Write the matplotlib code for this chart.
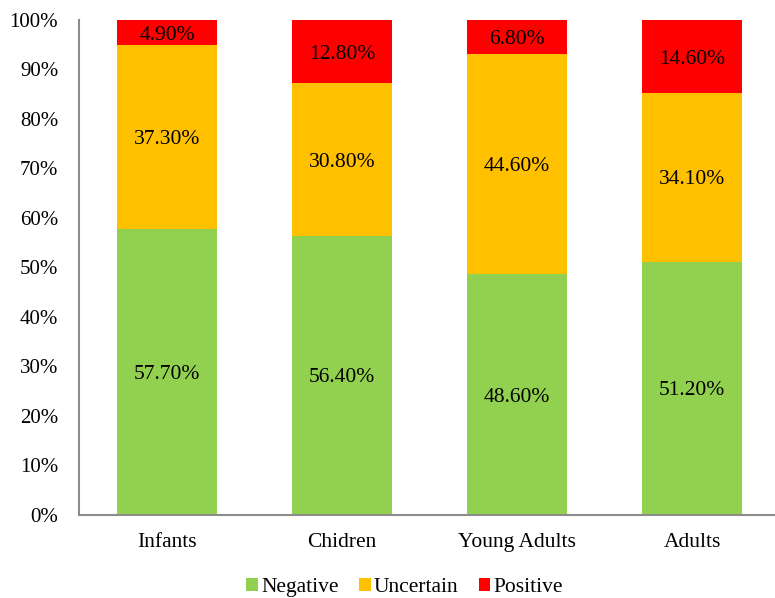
import numpy as np
import matplotlib
matplotlib.use('Agg')
import matplotlib.pyplot as plt
from matplotlib.ticker import FuncFormatter

groups = ['Infants', 'Chidren', 'Young Adults', 'Adults']
negative = [57.7, 56.4, 48.6, 51.2]
uncertain = [37.3, 30.8, 44.6, 34.1]
positive = [4.9, 12.8, 6.8, 14.6]

plt.rcParams['font.family'] = ['Liberation Serif', 'DejaVu Serif']

fig = plt.figure(figsize=(7.75, 5.98), dpi=100)
ax = fig.add_axes([0.1019, 0.1388, 0.8981, 0.8278])

x = np.arange(len(groups))
width = 0.571
neg = np.array(negative)
unc = np.array(uncertain)
pos = np.array(positive)

series = [
    ('Negative', neg, np.zeros_like(neg), '#92D050'),
    ('Uncertain', unc, neg, '#FFC000'),
    ('Positive', pos, neg + unc, '#FF0000'),
]
for name, vals, bottom, color in series:
    ax.bar(x, vals, width, bottom=bottom, color=color, label=name, zorder=2)
    for xi, v, b in zip(x, vals, bottom):
        ax.text(xi, b + v / 2, f'{v:.2f}%', ha='center', va='center_baseline',
                fontsize=15.5, color='black', zorder=3)

ax.set_xlim(-0.503, 3.474)
ax.set_ylim(0, 100)
ax.set_yticks(np.arange(0, 101, 10))
ax.yaxis.set_major_formatter(FuncFormatter(lambda v, p: f'{v:.0f}%'))
ax.set_xticks(x)
ax.set_xticklabels(groups)
ax.tick_params(axis='both', length=0, labelsize=15.5)
ax.tick_params(axis='y', labelsize=15)
ax.tick_params(axis='x', pad=13)
ax.tick_params(axis='y', pad=15)

for side in ['top', 'right']:
    ax.spines[side].set_visible(False)
for side in ['left', 'bottom']:
    ax.spines[side].set_color('#8C8C8C')
    ax.spines[side].set_linewidth(1.5)

ax.legend(loc='center', bbox_to_anchor=(0.468, -0.147), ncol=3,
          frameon=False, prop={'family': 'Liberation Serif', 'size': 15.5},
          handlelength=0.55, handleheight=0.55,
          handletextpad=0.15, columnspacing=0.93, borderpad=0)

fig.savefig('out.png', dpi=100)
